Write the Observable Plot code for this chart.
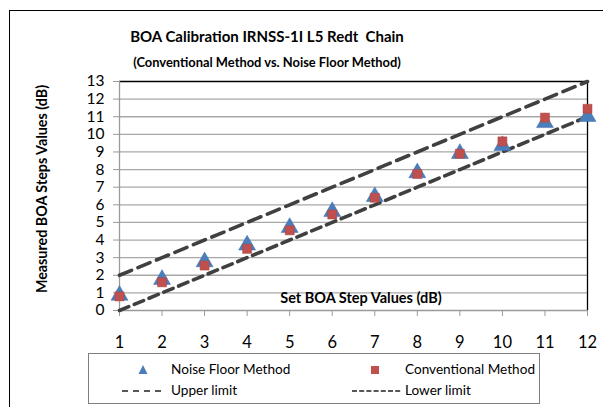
<!DOCTYPE html>
<html>
<head>
<meta charset="utf-8">
<script src="https://cdn.jsdelivr.net/npm/d3@7"></script>
<script src="https://cdn.jsdelivr.net/npm/@observablehq/plot@0.6"></script>
<style>
  html, body { margin: 0; padding: 0; background: #fff; }
  #wrap { position: relative; width: 603px; height: 407px; overflow: hidden; font-family: Lato, "Open Sans", sans-serif; color: #000; }
  #wrap svg { position: absolute; left: 0; top: 0; }
  .abs { position: absolute; white-space: pre; }
  #border { position: absolute; left: 9px; top: 10px; width: 700px; height: 500px; border-left: 1.6px solid #000; border-top: 1.6px solid #000; }
  #title { left: 0; width: 534px; top: 27px; text-align: center; font-size: 15px; font-weight: 700; }
  #subtitle { left: 0; width: 534px; top: 54px; text-align: center; font-size: 12.9px; font-weight: 700; }
  #ytitle { left: 41px; top: 189px; transform: translate(-50%, -50%) rotate(-90deg); font-size: 14.3px; font-weight: 700; }
  #xtitle { left: 361px; top: 297px; transform: translate(-50%, -50%); font-size: 14.5px; font-weight: 700; }
  #legend { position: absolute; left: 88px; top: 353px; width: 452px; height: 51px; border: 1px solid #7f7f7f; box-sizing: border-box; }
  .lt { position: absolute; font-size: 13.6px; transform: translateY(-50%); }
</style>
</head>
<body>
<div id="wrap">
  <div id="border"></div>
  <div id="title" class="abs">BOA Calibration IRNSS-1I L5 Redt  Chain</div>
  <div id="subtitle" class="abs">(Conventional Method vs. Noise Floor Method)</div>
  <div id="ytitle" class="abs">Measured BOA Steps Values (dB)</div>
  <div id="chart"></div>
  <div id="xtitle" class="abs">Set BOA Step Values (dB)</div>
  <div id="legend"></div>
</div>
<script>
// ---- data ----
const setSteps = [1, 2, 3, 4, 5, 6, 7, 8, 9, 10, 11, 12];
const noiseFloor = [1.0, 1.9, 2.9, 3.85, 4.85, 5.75, 6.6, 7.95, 9.05, 9.5, 10.8, 11.15];
const conventional = [0.8, 1.6, 2.55, 3.5, 4.55, 5.45, 6.4, 7.75, 8.9, 9.6, 10.95, 11.45];
const upperLimit = [2, 3, 4, 5, 6, 7, 8, 9, 10, 11, 12, 13];
const lowerLimit = [0, 1, 2, 3, 4, 5, 6, 7, 8, 9, 10, 11];
const xTicks = [1, 2, 3, 4, 5, 6, 7, 8, 9, 10, 11, 12];
const yTicks = [0, 1, 2, 3, 4, 5, 6, 7, 8, 9, 10, 11, 12, 13];
const seriesNames = ["Noise Floor Method", "Conventional Method", "Upper limit", "Lower limit"];

const noiseData = setSteps.map((x, i) => ({x, y: noiseFloor[i]}));
const convData = setSteps.map((x, i) => ({x, y: conventional[i]}));
const upperData = setSteps.map((x, i) => ({x, y: upperLimit[i]}));
const lowerData = setSteps.map((x, i) => ({x, y: lowerLimit[i]}));

// triangle centred on its bounding box (like spreadsheet markers)
const boxTriangle = {
  draw(context, size) {
    const s = Math.sqrt(size * 4 / Math.sqrt(3));
    const h = s * Math.sqrt(3) / 2;
    context.moveTo(0, -h / 2);
    context.lineTo(s / 2, h / 2);
    context.lineTo(-s / 2, h / 2);
    context.closePath();
  }
};

const gray = "#9a9a9a";
const chart = Plot.plot({
  width: 603,
  height: 407,
  marginLeft: 119,
  marginRight: 16,
  marginTop: 81,
  marginBottom: 97,
  style: {fontFamily: "Lato, 'Open Sans', sans-serif", fontSize: "16px", background: "transparent", color: "#000"},
  x: {domain: [1, 12]},
  y: {domain: [0, 13]},
  marks: [
    Plot.gridY(yTicks.filter(d => d > 0 && d < 13), {stroke: "#a8a8a8", strokeOpacity: 1, strokeWidth: 1.3}),
    Plot.ruleY([13], {stroke: "#000", strokeWidth: 1.3}),
    Plot.ruleX([12], {stroke: "#000", strokeWidth: 1.3}),
    Plot.ruleY([0], {stroke: gray, strokeWidth: 1.3}),
    Plot.ruleX([1], {stroke: gray, strokeWidth: 1.3}),
    Plot.axisX(xTicks, {tickSize: 6, tickPadding: 20, stroke: gray, label: null, fontSize: 16.5, fill: "#000", tickFormat: d => String(d)}),
    Plot.axisY(yTicks, {tickSize: 6, tickPadding: 9, stroke: gray, label: null, fontSize: 15.5, fill: "#000", tickFormat: d => String(d)}),
    Plot.line(upperData, {x: "x", y: "y", stroke: "#404040", strokeWidth: 3.6, strokeDasharray: "13,7"}),
    Plot.line(lowerData, {x: "x", y: "y", stroke: "#404040", strokeWidth: 3.6, strokeDasharray: "10,6"}),
    Plot.dot(noiseData, {x: "x", y: "y", symbol: boxTriangle, r: 6.3, fill: "#4a7ebb", stroke: "#3d6fb0", strokeWidth: 0.5}),
    Plot.dot(convData, {x: "x", y: "y", symbol: "square", r: 5.1, fill: "#c0504d", stroke: "#b04441", strokeWidth: 0.5})
  ]
});
document.getElementById("chart").appendChild(chart);

// ---- legend ----
const legend = document.getElementById("legend");
const L = 88, T = 353;
function addText(txt, x, y) {
  const d = document.createElement("div");
  d.className = "lt abs";
  d.textContent = txt;
  d.style.left = (x - L - 1) + "px";
  d.style.top = (y - T - 1) + "px";
  legend.appendChild(d);
}
const ns = "http://www.w3.org/2000/svg";
const lsvg = document.createElementNS(ns, "svg");
lsvg.setAttribute("width", 452);
lsvg.setAttribute("height", 51);
lsvg.style.position = "absolute";
lsvg.style.left = "-1px";
lsvg.style.top = "-1px";
legend.appendChild(lsvg);
function el(tag, attrs) {
  const e = document.createElementNS(ns, tag);
  for (const k in attrs) e.setAttribute(k, attrs[k]);
  lsvg.appendChild(e);
}
// row 1
el("path", {d: `M${143 - L},${365 - T} L${147.5 - L},${374 - T} L${138.5 - L},${374 - T} Z`, fill: "#4a7ebb"});
addText(seriesNames[0], 171, 369);
el("rect", {x: 371 - L, y: 366 - T, width: 8, height: 8, fill: "#c0504d"});
addText(seriesNames[1], 405, 369);
// row 2
el("line", {x1: 122 - L, x2: 163 - L, y1: 391 - T, y2: 391 - T, stroke: "#222", "stroke-width": 1.3, "stroke-dasharray": "6,5"});
addText(seriesNames[2], 171, 390);
el("line", {x1: 352 - L, x2: 402 - L, y1: 391 - T, y2: 391 - T, stroke: "#222", "stroke-width": 1.3, "stroke-dasharray": "5,2.2"});
addText(seriesNames[3], 405, 390);
</script>
</body>
</html>
